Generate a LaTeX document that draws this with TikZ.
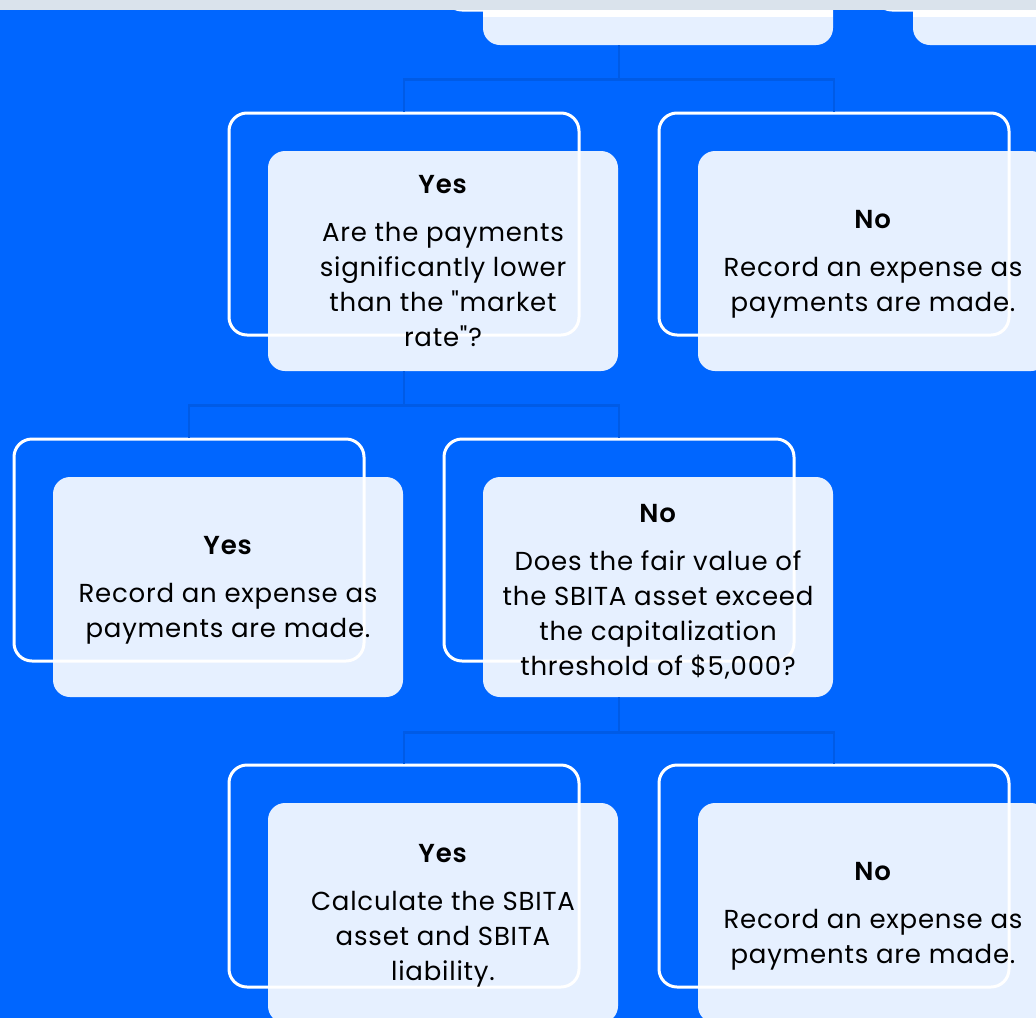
\documentclass[tikz,border=0pt]{standalone}
\usepackage{fontspec}
\setmainfont{Poppins}[Ligatures=TeXOff, LetterSpace=3, BoldFont={Poppins SemiBold}]
\definecolor{bgblue}{HTML}{0066FF}
\definecolor{linkblue}{HTML}{005BE6}
\definecolor{topband}{HTML}{DAE3EC}
\begin{document}
\begin{tikzpicture}[x=1pt,y=-1pt,
  card/.style={fill=white, fill opacity=0.9, rounded corners=17pt,
    minimum width=350pt, minimum height=220pt, inner sep=0pt},
  cardtext/.style={inner sep=0pt, align=center, text=black,
    font=\fontsize{26}{35}\selectfont},
  frame/.style={draw=white, line width=3pt, rounded corners=18pt,
    minimum width=350pt, minimum height=222pt, inner sep=0pt},
  conn/.style={draw=linkblue, line width=2.7pt}]
\useasboundingbox (0,0) rectangle (1036,1018);
\clip (0,0) rectangle (1036,1018);
\fill[bgblue] (0,0) rectangle (1036,1018);

% outline frames behind the cards
\node[frame] (TF)  at (619,-101) {};
\node[frame] (T2F) at (1049,-101) {};
\node[frame] (AF)  at (404,224) {};
\node[frame] (BF)  at (834,224) {};
\node[frame] (CF)  at (189,550) {};
\node[frame] (DF)  at (619,550) {};
\node[frame] (EF)  at (404,876) {};
\node[frame] (GF)  at (834,876) {};

% cards
\node[card] (T)  at (658,-65) {};
\node[card] (T2) at (1088,-65) {};
\node[card] (A) at (443,261) {};
\node[card] (B) at (873,261) {};
\node[card] (C) at (228,587) {};
\node[card] (D) at (658,587) {};
\node[card] (E) at (443,913) {};
\node[card] (G) at (873,913) {};

% card texts
\node[cardtext] (At) at (A.center) {\textbf{Yes}\\[13pt]Are the payments\\significantly lower\\than the "market\\rate"?};
\node[cardtext] (Bt) at ([yshift=-3pt]B.center) {\textbf{No}\\[13pt]Record an expense as\\payments are made.};
\node[cardtext] (Ct) at ([yshift=-3pt]C.center) {\textbf{Yes}\\[13pt]Record an expense as\\payments are made.};
\node[cardtext] (Dt) at ([yshift=-5pt]D.center) {\textbf{No}\\[13pt]Does the fair value of\\the SBITA asset exceed\\the capitalization\\threshold of \$5,000?};
\node[cardtext] (Et) at ([yshift=-3pt]E.center) {\textbf{Yes}\\[13pt]Calculate the SBITA\\asset and SBITA\\liability.};
\node[cardtext] (Gt) at ([yshift=-3pt]G.center) {\textbf{No}\\[13pt]Record an expense as\\payments are made.};

% connectors
\draw[conn] (TF.center |- T.south) -- ++(0,34) coordinate (j0);
\draw[conn] (j0) -| (AF.north);
\draw[conn] (j0) -| (BF.north);
\draw[conn] (AF.center |- A.south) -- ++(0,34) coordinate (j1);
\draw[conn] (j1) -| (CF.north);
\draw[conn] (j1) -| (DF.north);
\draw[conn] (DF.center |- D.south) -- ++(0,35) coordinate (j2);
\draw[conn] (j2) -| (EF.north);
\draw[conn] (j2) -| (GF.north);

% light top edge of the upper cards and the header band
\fill[white] (T.west |- 0,10) rectangle (T.east |- 0,17);
\fill[white] (T2.west |- 0,10) rectangle (1036,17);
\fill[topband] (0,0) rectangle (1036,10);
\end{tikzpicture}
\end{document}
